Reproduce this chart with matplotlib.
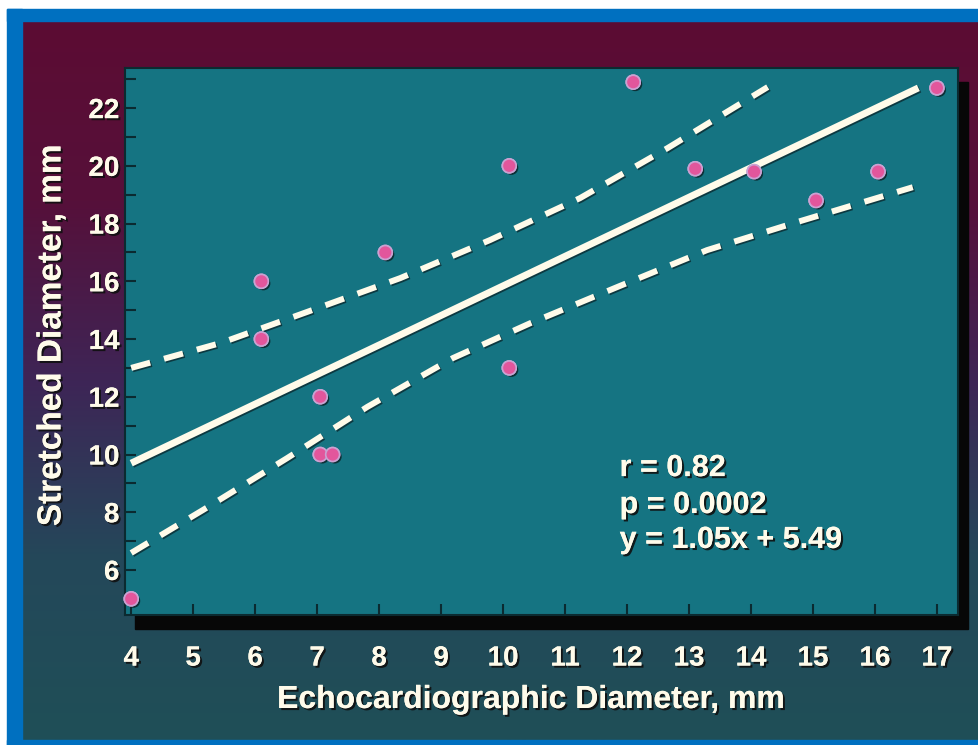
import matplotlib
matplotlib.use("Agg")
import matplotlib.pyplot as plt
import matplotlib.patheffects as pe
import numpy as np
from matplotlib.colors import LinearSegmentedColormap
from matplotlib.patches import Rectangle

# data
echo_mm = [4.0, 6.1, 6.1, 7.05, 7.05, 7.25, 8.1, 10.1, 10.1, 12.1, 13.1, 14.05, 15.05, 16.05, 17.0]
stretched_mm = [5.0, 16.0, 14.0, 12.0, 10.0, 10.0, 17.0, 20.0, 13.0, 22.9, 19.9, 19.8, 18.8, 19.8, 22.7]

fit_x = [4.0, 16.7]
fit_y = [9.7, 22.7]

upper_x = [4.0, 5.44, 6.84, 8.34, 9.79, 11.24, 12.65, 14.27]
upper_y = [13.0, 13.86, 14.94, 16.11, 17.43, 18.88, 20.61, 22.73]

lower_x = [4.0, 5.16, 6.52, 7.81, 9.19, 10.44, 11.84, 13.29, 14.74, 16.61]
lower_y = [6.59, 8.08, 9.88, 11.65, 13.34, 14.55, 15.80, 17.08, 18.05, 19.26]

x_ticks = list(range(4, 18))
y_ticks = list(range(6, 23, 2))
y_minor = list(range(5, 24, 2))
stats_lines = ["r = 0.82", "p = 0.0002", "y = 1.05x + 5.49"]

FONT = ["Liberation Sans Narrow", "Liberation Sans"]
CREAM = "#fffbea"
shadow = [pe.withSimplePatchShadow(offset=(1.5, -1.5), shadow_rgbFace="#101010", alpha=0.9), pe.Normal()]

W, H = 979, 745
fig = plt.figure(figsize=(W / 100, H / 100), dpi=100)
fig.patch.set_facecolor("white")

# slide background gradient
bg = fig.add_axes([22 / W, 1 - 740 / H, (W - 22) / W, (740 - 21) / H])
bg.set_zorder(-5)
cmap = LinearSegmentedColormap.from_list(
    "slide", ["#5c0c33", "#56103a", "#3e2556", "#24485a", "#1f4f57"])
bg.imshow(np.linspace(0, 1, 256).reshape(-1, 1), aspect="auto", cmap=cmap,
          extent=[0, 1, 0, 1], origin="upper")
bg.set_axis_off()

# blue frame
for rect in [(7 / W, 1 - 21 / H, 1, 12 / H), (7 / W, 0, 15 / W, 1 - 9 / H), (7 / W, 0, 1, 5 / H)]:
    fig.patches.append(Rectangle(rect[:2], rect[2], rect[3], transform=fig.transFigure,
                                 color="#0070c0", zorder=-4))

# plot panel with drop shadow
ax_l, ax_b, ax_w, ax_h = 125 / W, 1 - 615 / H, 833 / W, 547 / H
fig.patches.append(Rectangle((ax_l + 10 / W, ax_b - 14 / H), ax_w, ax_h,
                             transform=fig.transFigure, color="#070707", zorder=-3))
ax = fig.add_axes([ax_l, ax_b, ax_w, ax_h])
ax.set_facecolor("#157482")
for s in ax.spines.values():
    s.set_color("#0b2a30")
    s.set_linewidth(1.5)

ax.set_xlim(3.9, 17.34)
ax.set_ylim(4.44, 23.39)

line_style = dict(color=CREAM, solid_capstyle="butt", dash_capstyle="butt",
                  path_effects=[pe.SimpleLineShadow(offset=(1, -1), shadow_color="#0a2a30", alpha=0.8), pe.Normal()])
ax.plot(fit_x, fit_y, lw=5, **line_style)
ax.plot(upper_x, upper_y, lw=4.3, linestyle=(0, (3.3, 2.4)), **line_style)
ax.plot(lower_x, lower_y, lw=4.3, linestyle=(0, (3.3, 2.4)), **line_style)

ax.plot(echo_mm, stretched_mm, "o", ms=10, mfc="#e2569c", mec="#c9a2d2", mew=1.2,
        clip_on=False, zorder=5,
        path_effects=[pe.withSimplePatchShadow(offset=(1.5, -1.5), shadow_rgbFace="#0a2025", alpha=0.8), pe.Normal()])

ax.set_xticks(x_ticks)
ax.set_yticks(y_ticks)
ax.set_yticks(y_minor, minor=True)
ax.tick_params(which="both", direction="in", length=8, width=1.5, color="#0b2a30")
ax.tick_params(axis="x", pad=22)
ax.tick_params(axis="y", pad=4)
for lab in ax.get_xticklabels() + ax.get_yticklabels():
    lab.set_family(FONT)
    lab.set_fontweight("bold")
    lab.set_fontsize(20)
    lab.set_color(CREAM)
    lab.set_path_effects(shadow)

fig.text(531 / W, 1 - 700 / H, "Echocardiographic Diameter, mm", ha="center", va="center",
         family=FONT, fontweight="bold", fontsize=23, color=CREAM, path_effects=shadow)
fig.text(52 / W, 1 - 335 / H, "Stretched Diameter, mm", ha="center", va="center", rotation=90,
         family=FONT, fontweight="bold", fontsize=24, color=CREAM, path_effects=shadow)

for txt, yy in zip(stats_lines, [9.53, 8.25, 7.04]):
    ax.text(11.88, yy, txt, ha="left", va="center", family=FONT, fontweight="bold",
            fontsize=22, color=CREAM, path_effects=shadow)

fig.savefig("out.png", dpi=100)
